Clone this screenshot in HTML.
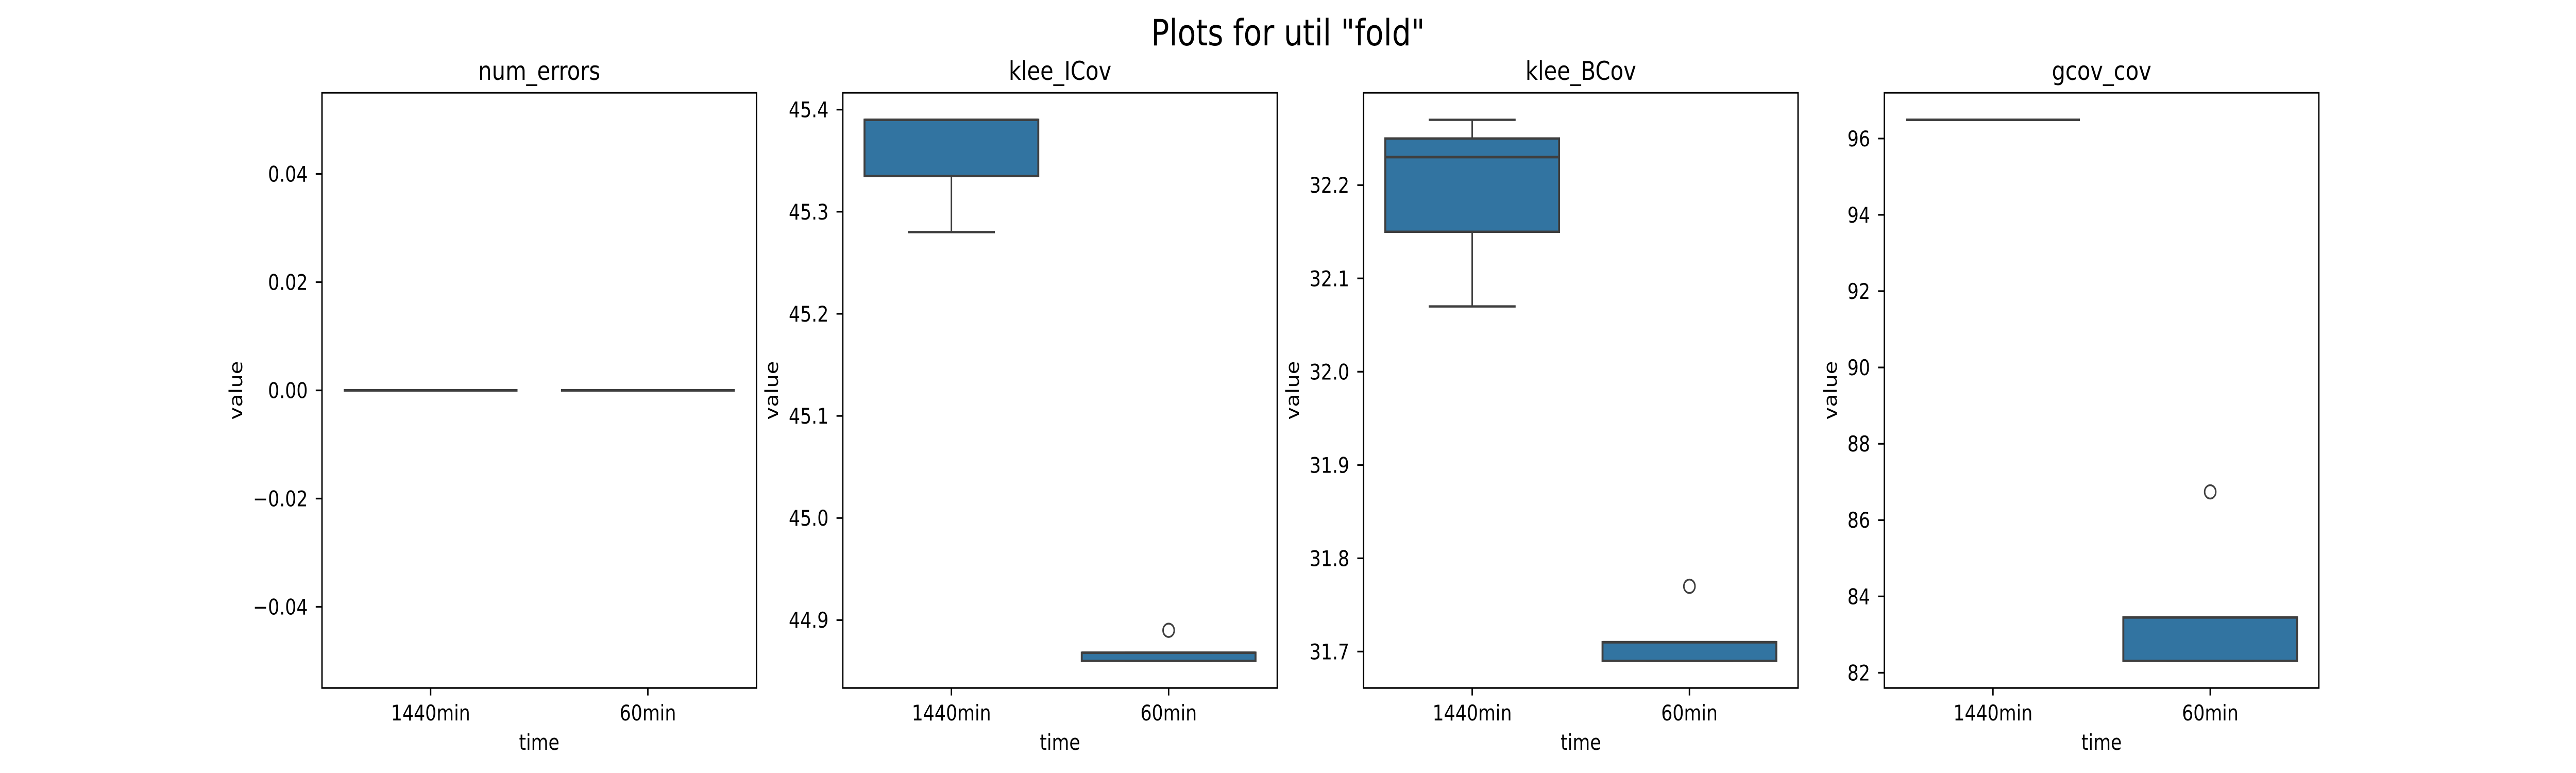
<!DOCTYPE html>
<html><head><meta charset="utf-8"><style>
html,body{margin:0;padding:0;background:#fff;overflow:hidden;width:100%;height:100%;}
svg{display:block;width:100vw;height:100vh;font-family:"DejaVu Sans","Liberation Sans",sans-serif;}
</style></head><body>
<svg id="fig" viewBox="0 0 6000 1500" preserveAspectRatio="none" xmlns="http://www.w3.org/2000/svg">
<rect width="6000" height="1500" fill="#fff"/>
<text x="3000" y="88" font-size="70" text-anchor="middle">Plots for util "fold"</text>
</svg>
<script>
const categories = ["1440min", "60min"];
const panelTitles = ["num_errors", "klee_ICov", "klee_BCov", "gcov_cov"];
// per panel, per category: [whiskerLow, q1, median, q3, whiskerHigh]
const statsNumErrors = [[0,0,0,0,0],[0,0,0,0,0]];
const statsKleeICov = [[45.28,45.335,45.39,45.39,45.39],[44.86,44.86,44.868,44.868,44.868]];
const statsKleeBCov = [[32.07,32.15,32.23,32.25,32.27],[31.69,31.69,31.71,31.71,31.71]];
const statsGcov = [[96.49,96.49,96.49,96.49,96.49],[82.31,82.31,83.45,83.45,83.45]];
const outliersNumErrors = [[],[]];
const outliersKleeICov = [[],[44.89]];
const outliersKleeBCov = [[],[31.77]];
const outliersGcov = [[],[86.74]];
const ticksNumErrors = [-0.04,-0.02,0,0.02,0.04];
const ticksKleeICov = [44.9,45.0,45.1,45.2,45.3,45.4];
const ticksKleeBCov = [31.7,31.8,31.9,32.0,32.1,32.2];
const ticksGcov = [82,84,86,88,90,92,94,96];
const tickLabelsNumErrors = ["\u22120.04","\u22120.02","0.00","0.02","0.04"];
const tickLabelsKleeICov = ["44.9","45.0","45.1","45.2","45.3","45.4"];
const tickLabelsKleeBCov = ["31.7","31.8","31.9","32.0","32.1","32.2"];
const tickLabelsGcov = ["82","84","86","88","90","92","94","96"];

const allStats=[statsNumErrors,statsKleeICov,statsKleeBCov,statsGcov];
const allOut=[outliersNumErrors,outliersKleeICov,outliersKleeBCov,outliersGcov];
const allTicks=[ticksNumErrors,ticksKleeICov,ticksKleeBCov,ticksGcov];
const allTL=[tickLabelsNumErrors,tickLabelsKleeICov,tickLabelsKleeBCov,tickLabelsGcov];

const svg=document.getElementById('fig');
const NS='http://www.w3.org/2000/svg';
function mk(tag,attrs,parent){const e=document.createElementNS(NS,tag);for(const k in attrs)e.setAttribute(k,attrs[k]);(parent||svg).appendChild(e);return e;}
function labelWidth(s){let w=0;for(const ch of s){w+= ch==='.'?13.2:(ch==='\u2212'?35:26.5);}return w;}
const L0=750,STEP=1213,W=1012,TOP=180,BOT=1335;
for(let p=0;p<4;p++){
  const left=L0+p*STEP, right=left+W;
  const st=allStats[p], out=allOut[p];
  let vals=[];st.forEach(s=>vals.push(...s));out.forEach(o=>vals.push(...o));
  let mn=Math.min(...vals),mx=Math.max(...vals);
  if(mx-mn<1e-12){mn-=0.05;mx+=0.05;}
  const m=(mx-mn)*0.05;mn-=m;mx+=m;
  const y=v=>BOT-(v-mn)/(mx-mn)*(BOT-TOP);
  const x=c=>left+(c+0.5)/2*W;
  const g=mk('g',{});
  
  
  st.forEach((s,c)=>{
    const cx=x(c),hw=0.4*W/2,cw=0.2*W/2;
    const bg=mk('g',{},g);
    
    
    mk('line',{x1:cx,x2:cx,y1:y(s[0]),y2:y(s[1]),stroke:'#3f3f3f','stroke-width':3.5},bg);
    mk('line',{x1:cx,x2:cx,y1:y(s[3]),y2:y(s[4]),stroke:'#3f3f3f','stroke-width':3.5},bg);
    mk('line',{x1:cx-cw,x2:cx+cw,y1:y(s[0]),y2:y(s[0]),stroke:'#3f3f3f','stroke-width':4.5},bg);
    mk('line',{x1:cx-cw,x2:cx+cw,y1:y(s[4]),y2:y(s[4]),stroke:'#3f3f3f','stroke-width':4.5},bg);
    mk('rect',{x:cx-hw,y:y(s[3]),width:2*hw,height:Math.max(0,y(s[1])-y(s[3])),fill:'#3274a1',stroke:'#3f3f3f','stroke-width':4.5},bg);
    mk('line',{x1:cx-hw,x2:cx+hw,y1:y(s[2]),y2:y(s[2]),stroke:'#3f3f3f','stroke-width':5},bg);
    out[c].forEach(o=>{
      const ci=mk('ellipse',{cx:cx,cy:y(o),rx:13,ry:13,fill:'none',stroke:'#3f3f3f','stroke-width':3.5},bg);
      
      
    });
  });
  const fr=mk('rect',{x:left,y:TOP,width:W,height:BOT-TOP,fill:'none',stroke:'#000','stroke-width':3.3},g);
  
  
  let maxW=0;
  allTicks[p].forEach((t,i)=>{
    const ty=y(t);
    mk('line',{x1:left-14.6,x2:left,y1:ty,y2:ty,stroke:'#000','stroke-width':3.3},g);
    const tx=mk('text',{x:left-33,y:ty+15,'font-size':41.7,'text-anchor':'end'},g);
    tx.textContent=allTL[p][i];
    
    
    maxW=Math.max(maxW,labelWidth(allTL[p][i]));
  });
  categories.forEach((c,i)=>{
    mk('line',{x1:x(i),x2:x(i),y1:BOT,y2:BOT+14.6,stroke:'#000','stroke-width':3.3},g);
    const tx=mk('text',{x:x(i),y:BOT+63,'font-size':41.7,'text-anchor':'middle'},g);
    tx.textContent=c;
    
    
  });
  const xl=mk('text',{x:left+W/2,y:1455,'font-size':41.7,'text-anchor':'middle'},g);
  xl.textContent='time';
  
  
  const lx=left-58-maxW;
  const yl=mk('text',{x:lx,y:(TOP+BOT)/2,'font-size':41.7,'text-anchor':'middle',transform:`rotate(-90 ${lx} ${(TOP+BOT)/2})`},g);
  yl.textContent='value';
  
  
  const ti=mk('text',{x:left+W/2,y:155,'font-size':50,'text-anchor':'middle'},g);
  ti.textContent=panelTitles[p];
  
  
}
</script>
</body></html>
